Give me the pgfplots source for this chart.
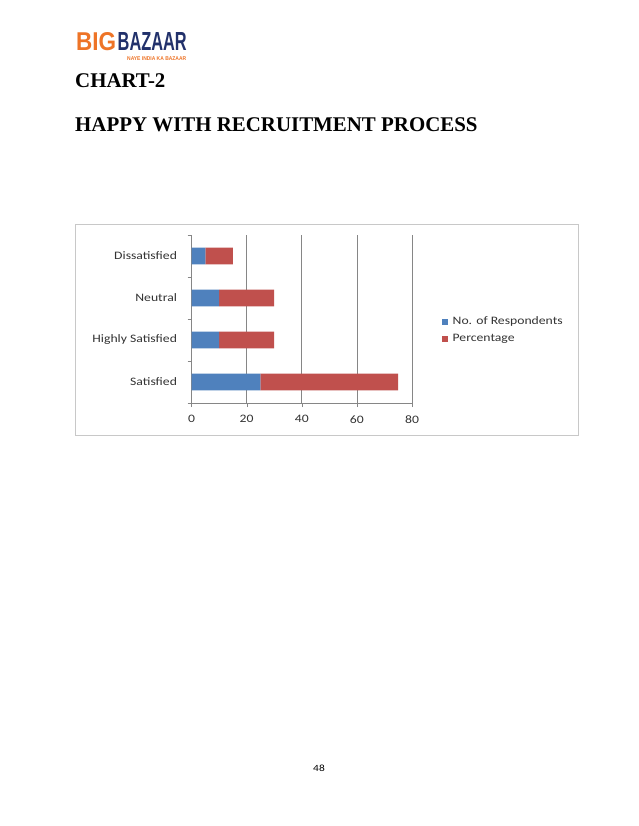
\documentclass[border=0pt]{standalone}
\usepackage{pgfplots}
\pgfplotsset{compat=1.18}
\usepackage{fontspec}
\setmainfont{Liberation Serif}
\newfontfamily\calib[FakeStretch=1.2]{Carlito}
\newfontfamily\logofont{Liberation Sans}
\definecolor{resp}{HTML}{4F81BD}
\definecolor{perc}{HTML}{C0504D}
\definecolor{gridgray}{HTML}{868686}
\definecolor{bborange}{HTML}{EE7427}
\definecolor{bbnavy}{HTML}{22316B}
\definecolor{framegray}{HTML}{C8C8C8}

\begin{document}
\begin{tikzpicture}
\begin{scope}[x=1pt,y=1pt]
\fill[white] (0,0) rectangle (638,-826);
% logo
\node[anchor=south west,inner sep=0,text=bborange] at (76,-51) {\resizebox{40pt}{18pt}{\logofont\bfseries BIG}};
\node[anchor=south west,inner sep=0,text=bbnavy] at (117.5,-51) {\resizebox{69pt}{18pt}{\logofont\bfseries BAZAAR}};
\node[anchor=south west,inner sep=0,text=bborange] at (127,-60.5) {\resizebox{59pt}{3.8pt}{\logofont\bfseries NAYE INDIA KA BAZAAR}};
% headings
\node[anchor=base west,inner sep=0] at (75,-87.7) {\fontsize{20.9}{24}\selectfont\bfseries CHART-2};
\node[anchor=base west,inner sep=0] at (75,-131.5) {\fontsize{20.9}{24}\selectfont\bfseries HAPPY WITH RECRUITMENT PROCESS};
% chart frame
\draw[framegray] (75.5,-224.5) rectangle (578,-435.5);
% page number
\node[anchor=base,inner sep=0] at (319,-771) {\calib\fontsize{9.5}{11}\selectfont 48};
\end{scope}
\begin{axis}[
  at={(191.5pt,-403pt)}, anchor=south west,
  width=220.5pt, height=168pt, scale only axis,
  xmin=0, xmax=80, ymin=-0.5, ymax=3.5,
  xbar stacked, bar width=0.4,
  axis x line*=bottom, axis y line*=left,
  axis line style={gridgray},
  xtick={0,20,40,60,80},
  ytick={-0.5,0.5,1.5,2.5,3.5},
  yticklabels={},
  extra y ticks={0,1,2,3},
  extra y tick labels={Satisfied,Highly Satisfied,Neutral,Dissatisfied},
  extra y tick style={major tick length=0pt},
  xmajorgrids, major grid style={gridgray, line width=0.6pt},
  tick align=outside,
  tick style={gridgray},
  major tick length=4pt,
  tick label style={font=\calib\fontsize{11.4}{13}\selectfont, text=black!80},
  /pgf/number format/assume math mode=true,
  yticklabel style={xshift=-11pt},
  xticklabel style={yshift=-5pt},
  legend style={at={(1.136,0.434)}, anchor=west, draw=none, fill=none,
    font=\calib\fontsize{11.4}{13}\selectfont, text=black!80,
    row sep=4pt, column sep=2.5pt, inner sep=0pt, cells={anchor=west}},
]
\addplot[fill=resp, draw=none, legend image code/.code={\fill[resp] (0pt,-3pt) rectangle (6pt,3pt);}]
  coordinates {(25,0) (10,1) (10,2) (5,3)};
\addplot[fill=perc, draw=none, legend image code/.code={\fill[perc] (0pt,-3pt) rectangle (6pt,3pt);}]
  coordinates {(50,0) (20,1) (20,2) (10,3)};
\legend{No. of Respondents, Percentage}
\end{axis}
\end{tikzpicture}
\end{document}
